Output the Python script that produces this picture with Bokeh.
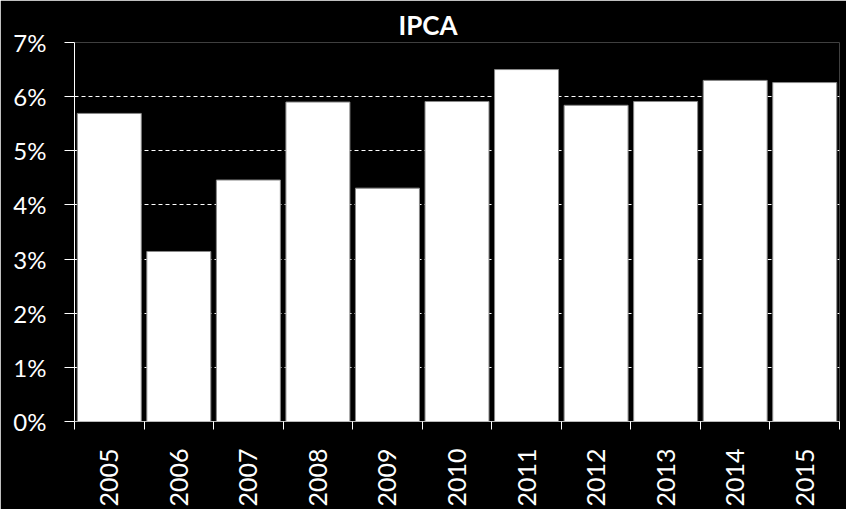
from bokeh.plotting import figure
from bokeh.models import (Range1d, FixedTicker, PrintfTickFormatter, CustomJSTickFormatter,
                          ColumnDataSource, LinearAxis, Grid, Title)
from bokeh.embed import file_html
from bokeh.resources import INLINE
import math

title = "IPCA"
years = ["2005", "2006", "2007", "2008", "2009", "2010", "2011", "2012", "2013", "2014", "2015"]
ipca = [5.69, 3.14, 4.46, 5.90, 4.31, 5.91, 6.50, 5.84, 5.91, 6.30, 6.26]
y_ticks = [0, 1, 2, 3, 4, 5, 6, 7]

xs = [i + 0.5 for i in range(len(years))]
src = ColumnDataSource(dict(x=xs, top=ipca, year=years))

p = figure(width=846, height=509, output_backend="svg", toolbar_location=None,
           x_range=Range1d(0, len(years)), y_range=Range1d(0, 7),
           x_axis_type=None, y_axis_type=None,
           min_border_left=74, min_border_right=7, min_border_top=42, min_border_bottom=88)
p.background_fill_color = "black"
p.border_fill_color = "black"
p.outline_line_color = None

t = Title(text=title, align="left", offset=324, standoff=4, text_color="white",
          text_font="Lato", text_font_style="bold", text_font_size="26px")
p.add_layout(t, "above")

# y axis
yax = LinearAxis(ticker=FixedTicker(ticks=y_ticks, minor_ticks=[]),
                 formatter=PrintfTickFormatter(format="%d%%"))
yax.axis_line_color = "white"
yax.major_tick_line_color = "white"
yax.major_tick_out = 10
yax.major_tick_in = 0
yax.major_label_text_color = "white"
yax.major_label_text_font = "Lato"
yax.major_label_text_font_size = "24px"
yax.major_label_standoff = 18
p.add_layout(yax, "left")

# x axis
xax = LinearAxis(ticker=FixedTicker(ticks=xs, minor_ticks=list(range(len(years) + 1))),
                 formatter=CustomJSTickFormatter(args=dict(years=years),
                                                 code="return years[Math.floor(tick)];"))
xax.axis_line_color = "#bbbbbb"
xax.major_tick_line_color = None
xax.minor_tick_line_color = "white"
xax.minor_tick_out = 8
xax.minor_tick_in = 0
xax.major_label_orientation = math.pi / 2
xax.major_label_text_color = "white"
xax.major_label_text_font = "Lato"
xax.major_label_text_font_size = "25px"
xax.major_label_standoff = 19
p.add_layout(xax, "below")

grid = Grid(dimension=1, ticker=FixedTicker(ticks=y_ticks[1:]))
grid.grid_line_color = "white"
grid.grid_line_dash = "4 3"
grid.grid_line_width = 1
p.add_layout(grid)

p.vbar(x="x", top="top", width=0.92, source=src, fill_color="white",
       line_color="#888888", line_width=1)

open("out.html", "w").write(file_html(p, INLINE))
